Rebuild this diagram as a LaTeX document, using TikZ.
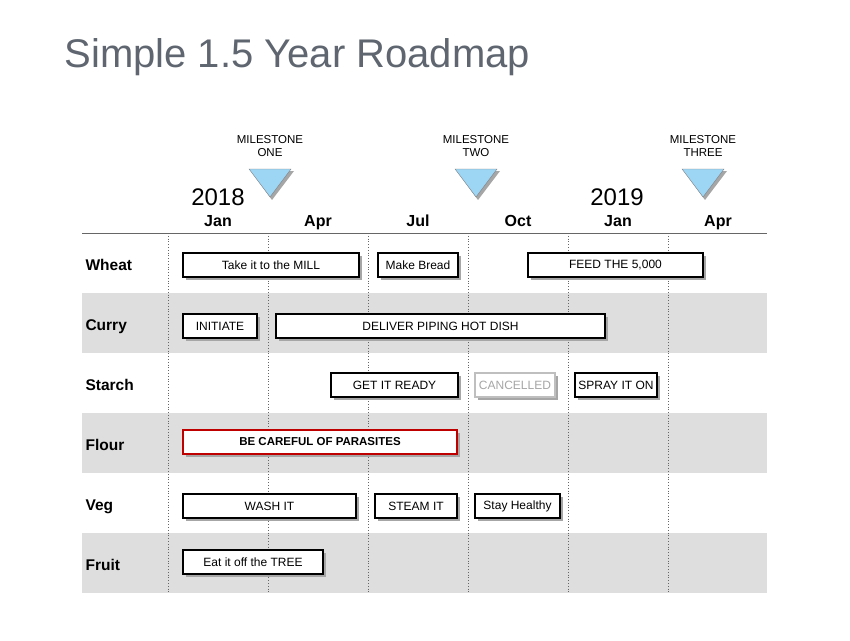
\documentclass[tikz,border=0pt]{standalone}
\usepackage{fontspec}
\setmainfont{Liberation Sans}
\definecolor{tcol}{HTML}{5F6670}
\definecolor{tri}{HTML}{9DD5F5}
\begin{document}
\begin{tikzpicture}[x=1pt,y=-1pt,
  bar/.style={draw=black,line width=1.1pt,fill=white,font=\fontsize{12}{14}\selectfont,inner sep=0pt},
  shad/.style={fill=black!35},
  mon/.style={font=\bfseries\fontsize{16}{18}\selectfont,anchor=base},
  rowlab/.style={font=\bfseries\fontsize{15.5}{18}\selectfont,anchor=base west},
  mlab/.style={font=\fontsize{11.5}{13.5}\selectfont,align=center},
  trist/.style={fill=tri,draw=black!50,line width=0.4pt}]
\useasboundingbox (0,0) rectangle (850,640);
\node[anchor=west,text=tcol,font=\fontsize{40}{46}\selectfont] (title) at (61,57) {Simple 1.5 Year Roadmap};
% bands
\foreach \y in {293,413,533} \fill[black!13] (82,\y) rectangle (767,\y+60);
\draw[black!60,line width=0.6pt] (82,233) -- (767,233);
\foreach \x in {168,268,368,468,568,668} \draw[black!60,dotted,line width=0.8pt] (\x,233) -- (\x,593);
% months
\foreach \x/\m in {218/Jan,318/Apr,418/Jul,518/Oct,618/Jan,718/Apr} \node[mon] at (\x,226) {\m};
\node[font=\fontsize{24}{26}\selectfont,anchor=base] (y1) at (218,205) {2018};
\node[font=\fontsize{24}{26}\selectfont,anchor=base] (y2) at (617,205) {2019};
% milestones
\foreach \x/\t/\n in {270/ONE/m1,476/TWO/m2,703/THREE/m3}{
  \fill[black!35] (\x-19,171) -- (\x+24,171) -- (\x+2,200) -- cycle;
  \draw[trist] (\x-21,169) -- (\x+21,169) -- (\x,197) -- cycle;
  \node[mlab] (\n) at (\x,146) {MILESTONE\\\t};
}
% rows
\foreach \y/\t in {270/Wheat,330/Curry,390/Starch,450/Flour,510/Veg,570/Fruit} \node[rowlab] at (82,\y) {\t};
% bars
\foreach \a/\b/\y/\t/\n in {183/359/265/Take it to the MILL/b1,378/458/265/Make Bread/b2,528/703/265/FEED THE 5{,}000/b3,
  183/257/326/INITIATE/b4,276/605/326/DELIVER PIPING HOT DISH/b5,
  331/458/385/GET IT READY/b6,575/657/385/SPRAY IT ON/b7,
  183/356/506/WASH IT/b8,375/457/506/STEAM IT/b9,475/560/506/Stay Healthy/b10,
  183/323/562/Eat it off the TREE/b11}{
  \fill[shad] (\a+3,\y-9) rectangle (\b+3,\y+15);
  \node[bar,minimum width=\b-\a,minimum height=24] (\n) at ({(\a+\b)/2},\y) {\t};
}
\fill[shad] (478,376) rectangle (558,400);
\node[bar,draw=black!25,text=black!35,minimum width=80,minimum height=24] (c) at (515,385) {CANCELLED};
\fill[shad] (186,433) rectangle (460,457);
\node[bar,draw=red!75!black,line width=2pt,font=\bfseries\fontsize{11.5}{13}\selectfont,minimum width=274,minimum height=24] (f) at (320,442) {BE CAREFUL OF PARASITES};
\end{tikzpicture}
\end{document}
